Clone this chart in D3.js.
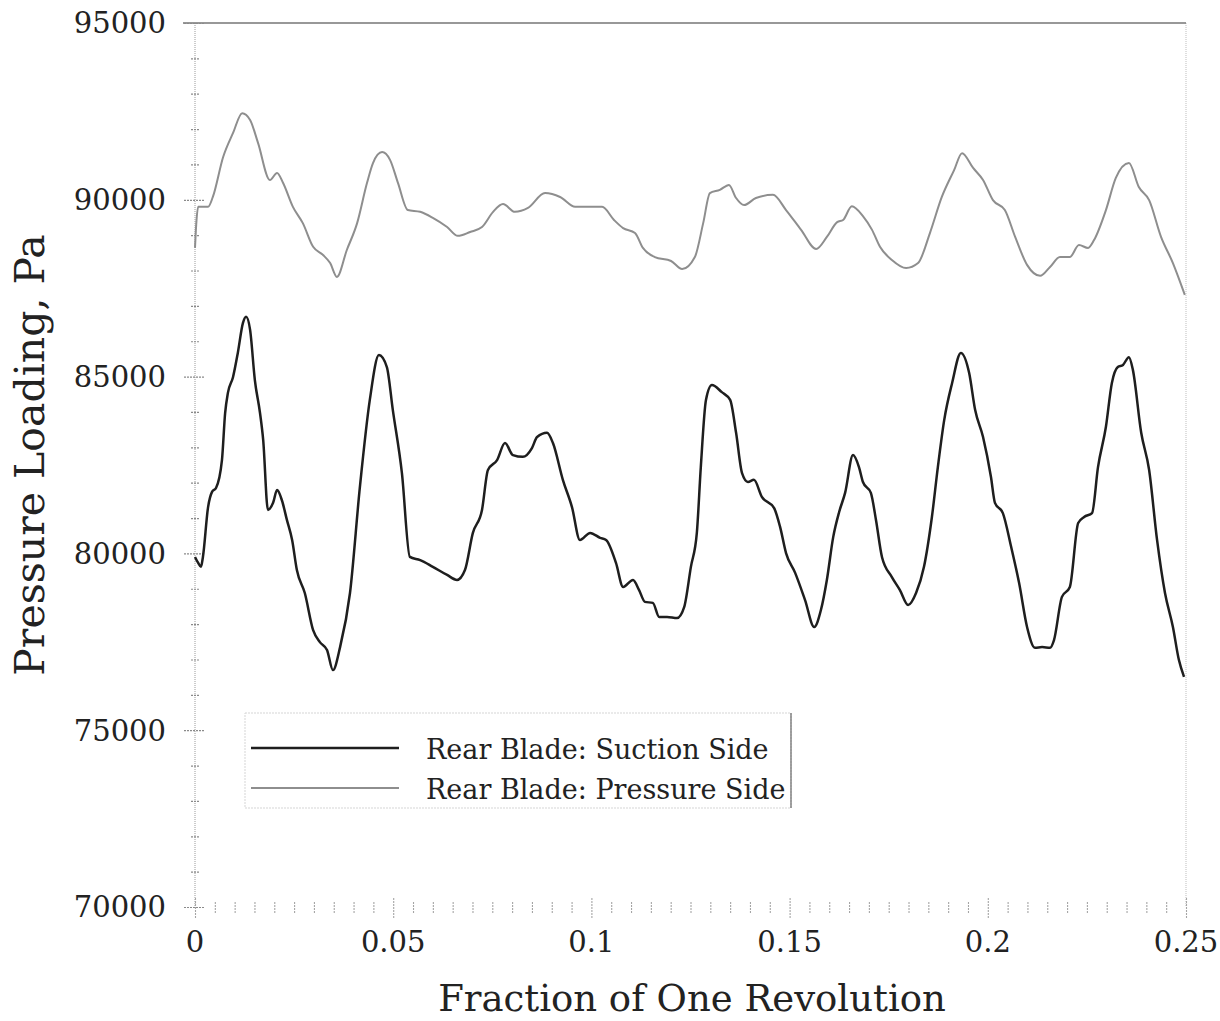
<!DOCTYPE html>
<html>
<head>
<meta charset="utf-8">
<script src="https://cdn.jsdelivr.net/npm/d3@7"></script>
<style>
  body { margin: 0; background: #fff; }
  text { font-family: "DejaVu Serif", serif; fill: #222; }
</style>
</head>
<body>
<script>
// rear blade loading
var seriesNames = ['Rear Blade: Suction Side', 'Rear Blade: Pressure Side']

var suctionX = [0, 0.0008, 0.0015, 0.0020, 0.0033, 0.0043, 0.0053, 0.0068, 0.0076, 0.0083, 0.0096, 0.0108, 0.0121, 0.0129, 0.0139, 0.0151, 0.0164, 0.0172, 0.0184, 0.0197,
  0.0207, 0.0219, 0.0232, 0.0245, 0.0257, 0.0277, 0.0298, 0.0315, 0.0333, 0.0348, 0.0366, 0.0391, 0.0416, 0.0441, 0.0464, 0.0484, 0.0499, 0.0522, 0.0542, 0.0568,
  0.0600, 0.0636, 0.0661, 0.0681, 0.0701, 0.0724, 0.0739, 0.0762, 0.0782, 0.0802, 0.0827, 0.0850, 0.0863, 0.0888, 0.0903, 0.0928, 0.0951, 0.0971, 0.0997, 0.1022,
  0.1037, 0.1062, 0.1080, 0.1105, 0.1120, 0.1135, 0.1155, 0.1171, 0.1191, 0.1216, 0.1234, 0.1251, 0.1266, 0.1276, 0.1289, 0.1304, 0.1329, 0.1350, 0.1365, 0.1380,
  0.1395, 0.1410, 0.1430, 0.1461, 0.1476, 0.1491, 0.1514, 0.1539, 0.1562, 0.1579, 0.1594, 0.1610, 0.1625, 0.1640, 0.1660, 0.1675, 0.1685, 0.1705, 0.1718, 0.1733,
  0.1758, 0.1778, 0.1799, 0.1819, 0.1839, 0.1859, 0.1874, 0.1890, 0.1910, 0.1932, 0.1953, 0.1968, 0.1988, 0.2008, 0.2018, 0.2038, 0.2059, 0.2079, 0.2099, 0.2119,
  0.2137, 0.2157, 0.2167, 0.2187, 0.2207, 0.2228, 0.2243, 0.2263, 0.2278, 0.2298, 0.2313, 0.2328, 0.2341, 0.2356, 0.2366, 0.2387, 0.2407, 0.2427, 0.2447, 0.2467,
  0.2482, 0.2495]
var suctionY = [79900, 79730, 79620, 79900, 81310, 81740, 81850, 82640, 83970, 84540, 84990, 85670, 86520, 86690, 86320, 84900, 83970, 83210, 81230, 81430,
  81790, 81510, 80940, 80380, 79530, 78880, 77830, 77490, 77270, 76700, 77350, 78880, 81880, 84340, 85610, 85270, 84060, 82270, 79900, 79810,
  79620, 79390, 79250, 79530, 80580, 81230, 82360, 82640, 83120, 82780, 82730, 82980, 83290, 83410, 83120, 82080, 81310, 80380, 80580, 80440,
  80380, 79730, 79050, 79250, 78970, 78630, 78600, 78200, 78200, 78170, 78480, 79620, 80580, 82440, 84340, 84760, 84560, 84340, 83410, 82270,
  82020, 82080, 81600, 81280, 80750, 80010, 79450, 78680, 77920, 78400, 79250, 80460, 81170, 81710, 82780, 82440, 82020, 81710, 80940, 79900,
  79330, 78970, 78540, 78880, 79620, 81030, 82440, 83770, 84820, 85670, 85100, 84060, 83290, 82160, 81430, 81140, 80180, 79160, 77920, 77330,
  77350, 77330, 77550, 78770, 79050, 80860, 81030, 81140, 82440, 83580, 84820, 85270, 85330, 85550, 85190, 83410, 82360, 80380, 78880, 77920,
  76990, 76510]

var pressureX = [0, 0.0003, 0.0008, 0.0033, 0.0045, 0.0071, 0.0096, 0.0119, 0.0139, 0.0159, 0.0189, 0.0207, 0.0222, 0.0247, 0.0272, 0.0298, 0.0323, 0.0341, 0.0358, 0.0383,
  0.0409, 0.0434, 0.0449, 0.0472, 0.0492, 0.0512, 0.0537, 0.0568, 0.0600, 0.0636, 0.0663, 0.0694, 0.0724, 0.0752, 0.0777, 0.0807, 0.0840, 0.0883, 0.0921, 0.0959,
  0.1027, 0.1057, 0.1080, 0.1110, 0.1130, 0.1160, 0.1201, 0.1229, 0.1261, 0.1282, 0.1299, 0.1324, 0.1347, 0.1365, 0.1385, 0.1415, 0.1458, 0.1491, 0.1529, 0.1567,
  0.1594, 0.1620, 0.1635, 0.1657, 0.1685, 0.1708, 0.1728, 0.1758, 0.1794, 0.1824, 0.1854, 0.1884, 0.1915, 0.1935, 0.1963, 0.1988, 0.2013, 0.2043, 0.2069, 0.2099,
  0.2132, 0.2157, 0.2182, 0.2207, 0.2230, 0.2253, 0.2268, 0.2298, 0.2323, 0.2356, 0.2381, 0.2407, 0.2437, 0.2467, 0.2497]
var pressureY = [88640, 89290, 89800, 89800, 90080, 91210, 91890, 92450, 92260, 91610, 90560, 90760, 90480, 89800, 89340, 88670, 88440, 88210, 87820, 88580,
  89340, 90480, 91040, 91350, 91130, 90480, 89710, 89660, 89490, 89230, 88980, 89090, 89230, 89660, 89880, 89660, 89770, 90190, 90080, 89800,
  89800, 89430, 89200, 89060, 88640, 88380, 88270, 88040, 88380, 89340, 90190, 90280, 90420, 90050, 89850, 90050, 90140, 89710, 89150, 88610,
  88950, 89370, 89430, 89820, 89540, 89150, 88670, 88300, 88070, 88210, 89060, 90080, 90840, 91320, 90900, 90560, 89990, 89710, 88950, 88160,
  87850, 88100, 88380, 88380, 88720, 88640, 88860, 89710, 90620, 91040, 90360, 89990, 88950, 88210, 87310]

var xTickLabels = [0, 0.05, 0.1, 0.15, 0.2, 0.25]
var yTickLabels = [70000, 75000, 80000, 85000, 90000, 95000]

var W = 1220, H = 1021
var margin = { top: 23, right: 34, bottom: 114, left: 195 }
var w = W - margin.left - margin.right
var h = H - margin.top - margin.bottom

var svg = d3.select('body').append('svg')
    .attr('width', W)
    .attr('height', H)
svg.append('rect').attr('width', W).attr('height', H).attr('fill', '#fff')

var g = svg.append('g')
    .attr('transform', 'translate(' + margin.left + ',' + margin.top + ')')

var xScale = d3.scaleLinear().domain([0, 0.25]).range([0, w])
var yScale = d3.scaleLinear().domain([70000, 95000]).range([h, 0])

// frame: dotted left/right, darker top
g.append('line').attr('x1', 0).attr('x2', 0).attr('y1', 0).attr('y2', h)
    .attr('stroke', '#9a9a9a').attr('stroke-width', 1).attr('stroke-dasharray', '1,1')
g.append('line').attr('x1', w).attr('x2', w).attr('y1', 0).attr('y2', h)
    .attr('stroke', '#bdbdbd').attr('stroke-width', 1).attr('stroke-dasharray', '1,1')
g.append('line').attr('x1', -12).attr('x2', w).attr('y1', 0).attr('y2', 0)
    .attr('stroke', '#767676').attr('stroke-width', 1.5)

// y axis, ticks crossing the line
var yAxis = d3.axisLeft(yScale)
    .tickValues(d3.range(70000, 95001, 1000))
    .tickSize(0)
    .tickFormat('')
var gy = g.append('g').call(yAxis)
gy.select('.domain').remove()
gy.selectAll('.tick').append('line')
    .attr('x1', function (d) { return d % 5000 === 0 ? -11 : -4 })
    .attr('x2', function (d) { return d % 5000 === 0 ? 10 : 4 })
    .attr('stroke', '#8a8a8a')
    .attr('stroke-width', 1.2)
    .attr('stroke-dasharray', '2,1')

g.selectAll('.ylab')
    .data(yTickLabels)
    .enter()
  .append('text')
    .attr('class', 'ylab')
    .attr('x', -29)
    .attr('y', function (d) { return yScale(d) })
    .attr('dy', '0.36em')
    .style('text-anchor', 'end')
    .style('font-size', '29px')
    .text(function (d) { return d })

// x axis: short ticks only
var xAxis = d3.axisBottom(xScale)
    .tickValues(d3.range(0, 51).map(function (i) { return i * 0.005 }))
    .tickSize(0)
    .tickFormat('')
var gx = g.append('g').attr('transform', 'translate(0,' + h + ')').call(xAxis)
gx.select('.domain').remove()
gx.selectAll('.tick').append('line')
    .attr('y1', function (d, i) { return i % 10 === 0 ? -9 : -5 })
    .attr('y2', function (d, i) { return i % 10 === 0 ? 11 : 7 })
    .attr('stroke', '#a5a5a5')
    .attr('stroke-width', 1.1)
    .attr('stroke-dasharray', '2,1')

g.selectAll('.xlab')
    .data(xTickLabels)
    .enter()
  .append('text')
    .attr('class', 'xlab')
    .attr('x', function (d) { return xScale(d) })
    .attr('y', h + 45)
    .style('text-anchor', 'middle')
    .style('font-size', '29px')
    .text(function (d) { return d })

// axis titles
svg.append('text')
    .attr('transform', 'translate(44,455) rotate(-90)')
    .style('text-anchor', 'middle')
    .style('font-size', '41px')
    .text('Pressure Loading, Pa')
svg.append('text')
    .attr('x', 692)
    .attr('y', 1011)
    .style('text-anchor', 'middle')
    .style('font-size', '37px')
    .text('Fraction of One Revolution')

// curves
var line = d3.line()
    .curve(d3.curveMonotoneX)
    .x(function (d) { return xScale(d[0]) })
    .y(function (d) { return yScale(d[1]) })

var pressure = pressureX.map(function (x, i) { return [x, pressureY[i]] })
var suction = suctionX.map(function (x, i) { return [x, suctionY[i]] })

g.append('path')
    .datum(pressure)
    .attr('d', line)
    .attr('fill', 'none')
    .attr('stroke', '#8e8e8e')
    .attr('stroke-width', 2)
    .attr('stroke-linejoin', 'round')
g.append('path')
    .datum(suction)
    .attr('d', line)
    .attr('fill', 'none')
    .attr('stroke', '#1e1e1e')
    .attr('stroke-width', 2.5)
    .attr('stroke-linejoin', 'round')

// legend
var lg = svg.append('g').attr('transform', 'translate(245,713)')
lg.append('rect')
    .attr('width', 546).attr('height', 95)
    .attr('fill', '#fff')
    .attr('stroke', '#d5d5d5').attr('stroke-width', 1).attr('stroke-dasharray', '2,1')
lg.append('line').attr('x1', 546).attr('x2', 546).attr('y1', 0).attr('y2', 95)
    .attr('stroke', '#666').attr('stroke-width', 1.2)
var legendColors = ['#1e1e1e', '#8e8e8e']
var legendWidths = [2.5, 2]
lg.selectAll('.item')
    .data(seriesNames)
    .enter()
  .append('g')
    .attr('class', 'item')
    .attr('transform', function (d, i) { return 'translate(0,' + (35 + i * 40) + ')' })
    .each(function (d, i) {
      var item = d3.select(this)
      item.append('line')
          .attr('x1', 6).attr('x2', 154)
          .attr('stroke', legendColors[i])
          .attr('stroke-width', legendWidths[i])
      item.append('text')
          .attr('x', 181)
          .attr('y', 11)
          .style('font-size', '27px')
          .text(d)
    })
</script>
</body>
</html>
